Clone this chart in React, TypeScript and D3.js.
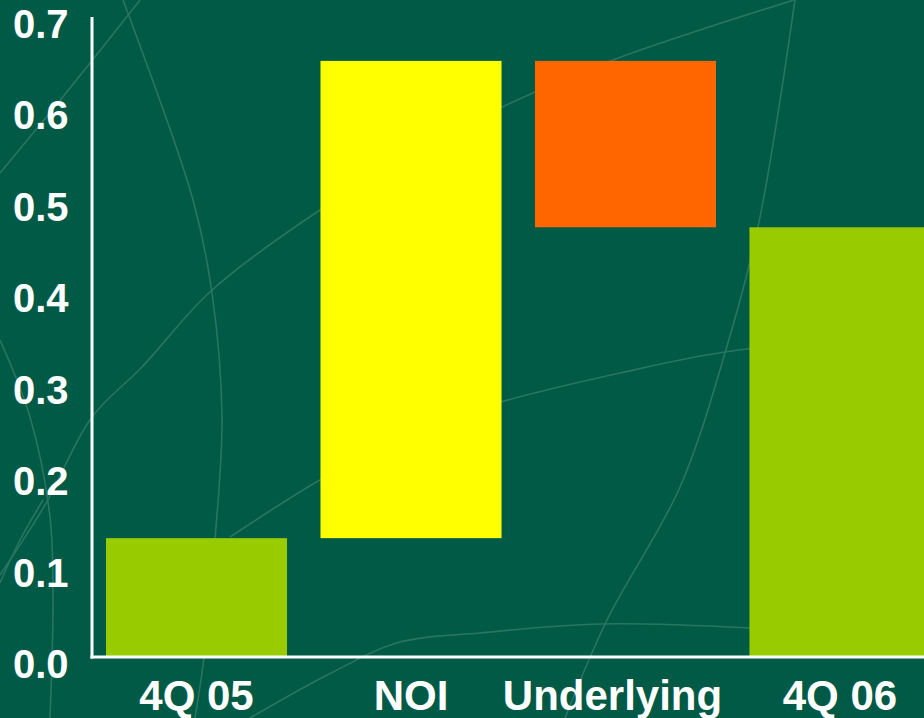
import React from "react";
import * as d3 from "d3";

const categories: string[] = ["4Q 05", "NOI", "Underlying", "4Q 06"];
const barStart: number[] = [0, 0.13, 0.652, 0];
const barEnd: number[] = [0.13, 0.652, 0.47, 0.47];
const barColors: string[] = ["#99CC00", "#FFFF00", "#FF6600", "#99CC00"];
const yTicks: number[] = [0, 0.1, 0.2, 0.3, 0.4, 0.5, 0.6, 0.7];

// background ornament (decorative swooshes of the slide template)
const ornaments: [number, number][][] = [
  [[0, 173], [70, 88], [140, 0]],
  [[123, 0], [193, 200], [212, 293], [222, 417], [215, 540], [205, 650], [195, 718]],
  [[0, 575], [45, 505], [92, 417], [142, 367], [212, 290], [320, 210], [420, 150], [500, 108], [613, 60], [700, 30], [794, 0]],
  [[795, 0], [758, 227], [725, 353], [680, 487], [607, 620], [565, 718]],
  [[230, 537], [287, 500], [320, 480], [420, 430], [501, 402], [620, 373], [725, 352], [924, 332]],
  [[250, 718], [333, 672], [400, 642], [480, 633], [600, 624], [750, 628]],
  [[0, 340], [30, 417], [50, 517], [53, 600], [50, 718]],
  [[43, 500], [20, 540], [0, 583]],
];

// horizontal nudge of category labels, as placed on the slide
const labelNudge: Record<string, number> = { Underlying: -13 };

const W = 924;
const H = 718;
const FONT = "'Liberation Sans', Arial, Helvetica, sans-serif";

export default function App() {
  const y = d3.scaleLinear().domain([0, 0.7]).range([657, 17]);
  const x = d3
    .scaleBand<string>()
    .domain(categories)
    .range([92, 944.5])
    .paddingInner(0.156)
    .paddingOuter(0.0653);
  const curve = d3
    .line<[number, number]>()
    .x((d) => d[0])
    .y((d) => d[1])
    .curve(d3.curveCatmullRom.alpha(0.5));

  return (
    <svg
      width={W}
      height={H}
      style={{ position: "absolute", left: 0, top: 0, display: "block" }}
    >
      <rect x={0} y={0} width={W} height={H} fill="#005A46" />
      <g fill="none" stroke="#2a7562" strokeWidth={1.6}>
        {ornaments.map((pts, i) => (
          <path key={i} d={curve(pts) || ""} />
        ))}
      </g>
      <g>
        {categories.map((c, i) => {
          const a = y(barStart[i]);
          const b = y(barEnd[i]);
          return (
            <rect
              key={c}
              x={x(c)}
              width={x.bandwidth()}
              y={Math.min(a, b)}
              height={Math.abs(a - b)}
              fill={barColors[i]}
            />
          );
        })}
      </g>
      <g stroke="#ffffff" strokeWidth={3} fill="none">
        <line x1={92} x2={92} y1={y(0.7)} y2={y(0) + 1.5} />
        <line x1={90.5} x2={W} y1={y(0)} y2={y(0)} />
      </g>
      <g
        fill="#ffffff"
        fontFamily={FONT}
        fontWeight="bold"
        fontSize={40}
        textAnchor="end"
      >
        {yTicks.map((t) => (
          <text key={t} x={68.5} y={y(t) + 21}>
            {d3.format(".1f")(t)}
          </text>
        ))}
      </g>
      <g
        fill="#ffffff"
        fontFamily={FONT}
        fontWeight="bold"
        fontSize={42}
        textAnchor="middle"
      >
        {categories.map((c) => (
          <text
            key={c}
            x={(x(c) as number) + x.bandwidth() / 2 + (labelNudge[c] || 0)}
            y={710}
          >
            {c}
          </text>
        ))}
      </g>
    </svg>
  );
}
